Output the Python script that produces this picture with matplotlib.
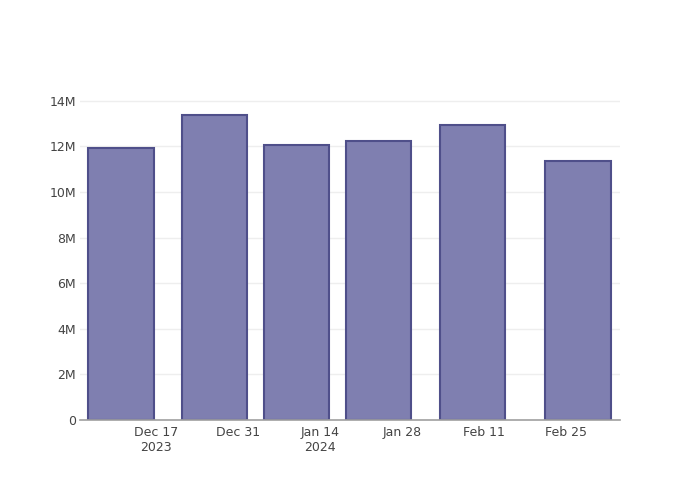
import datetime as dt

import matplotlib
matplotlib.use("Agg")
import matplotlib.pyplot as plt
import matplotlib.dates as mdates
from matplotlib.ticker import FuncFormatter

# values
dates = ["2023-12-11", "2023-12-27", "2024-01-10", "2024-01-24", "2024-02-09", "2024-02-27"]
values = [11.95e6, 13.36e6, 12.05e6, 12.22e6, 12.96e6, 11.37e6]
tick_dates = ["2023-12-17", "2023-12-31", "2024-01-14", "2024-01-28", "2024-02-11", "2024-02-25"]
tick_labels = ["Dec 17\n2023", "Dec 31", "Jan 14\n2024", "Jan 28", "Feb 11", "Feb 25"]
y_ticks = [0, 2e6, 4e6, 6e6, 8e6, 10e6, 12e6, 14e6]

plt.rcParams["font.family"] = ["DejaVu Sans"]

x = [dt.datetime.strptime(d, "%Y-%m-%d") for d in dates]
xt = [dt.datetime.strptime(d, "%Y-%m-%d") for d in tick_dates]

fig = plt.figure(figsize=(7, 5), dpi=100)
ax = fig.add_axes([80 / 700, 80 / 500, 540 / 700, 320 / 500])

ax.bar(x, values, width=11.2, color="#7f7fb0", edgecolor="#4f4f8a", linewidth=1.5, zorder=3)

ax.set_xlim(dt.datetime(2023, 12, 4, 0, 30), dt.datetime(2024, 3, 5, 5))
ax.set_ylim(0, 14.04e6)

ax.set_xticks(xt)
ax.set_xticklabels(tick_labels)
ax.set_yticks(y_ticks)
ax.yaxis.set_major_formatter(FuncFormatter(lambda v, p: "0" if v == 0 else f"{v / 1e6:.0f}M"))

ax.grid(axis="y", color="#eeeeee", linewidth=1, zorder=0)
ax.tick_params(axis="both", length=0, labelsize=9, colors="#444444")
ax.tick_params(axis="y", pad=3)
ax.tick_params(axis="x", pad=4)

for side in ("top", "right", "left"):
    ax.spines[side].set_visible(False)
ax.spines["bottom"].set_color("#a0a0a0")
ax.spines["bottom"].set_linewidth(1.2)
ax.spines["bottom"].set_zorder(4)

fig.savefig("out.png", dpi=100)
